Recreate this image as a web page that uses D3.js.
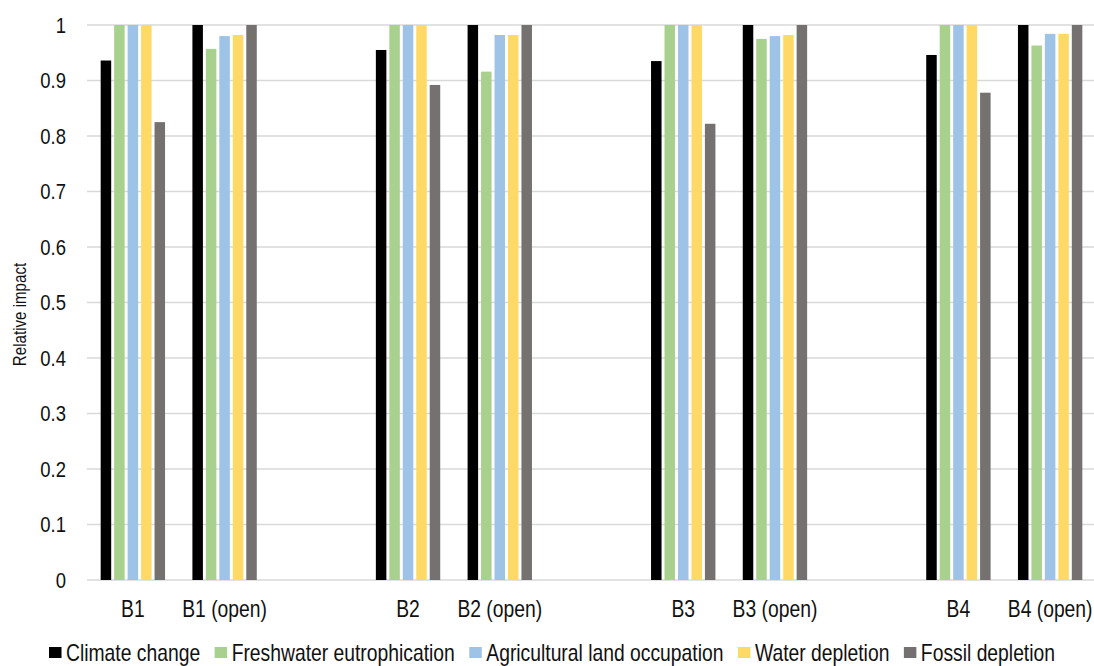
<!DOCTYPE html>
<html>
<head>
<meta charset="utf-8">
<script src="https://cdn.jsdelivr.net/npm/d3@7"></script>
<style>
  html, body { margin: 0; padding: 0; background: #ffffff; }
  svg { display: block; }
  text { font-family: "Liberation Sans", Arial, sans-serif; fill: #111111; }
</style>
</head>
<body>
<svg id="chart" width="1094" height="666"></svg>
<script>
// Category slots (empty strings are spacer slots between building pairs)
const categories = ["B1", "B1 (open)", "", "B2", "B2 (open)", "", "B3", "B3 (open)", "", "B4", "B4 (open)"];

const seriesNames = ["Climate change", "Freshwater eutrophication", "Agricultural land occupation", "Water depletion", "Fossil depletion"];
const seriesColors = ["#000000", "#a9d18e", "#9dc3e6", "#ffd966", "#767171"];

const climateChange            = [0.936, 1.000, null, 0.955, 1.000, null, 0.935, 1.000, null, 0.946, 1.000];
const freshwaterEutrophication = [1.000, 0.957, null, 1.000, 0.916, null, 1.000, 0.975, null, 1.000, 0.963];
const agriculturalLand         = [1.000, 0.980, null, 1.000, 0.982, null, 1.000, 0.980, null, 1.000, 0.984];
const waterDepletion           = [1.000, 0.982, null, 1.000, 0.982, null, 1.000, 0.982, null, 1.000, 0.984];
const fossilDepletion          = [0.825, 1.000, null, 0.892, 1.000, null, 0.822, 1.000, null, 0.878, 1.000];

const yTickValues = [0, 0.1, 0.2, 0.3, 0.4, 0.5, 0.6, 0.7, 0.8, 0.9, 1];
const yTickLabels = ["0", "0.1", "0.2", "0.3", "0.4", "0.5", "0.6", "0.7", "0.8", "0.9", "1"];
const yTitle = "Relative impact";

const seriesValues = [climateChange, freshwaterEutrophication, agriculturalLand, waterDepletion, fossilDepletion];

// Layout
const svg = d3.select("#chart");
const plotLeft = 87, plotRight = 1096, plotTop = 25, plotBottom = 580;
const squeeze = 0.84; // horizontal condensing of all text

const x0 = d3.scaleBand()
  .domain(d3.range(categories.length))
  .range([plotLeft, plotRight])
  .padding(0);

const groupPad = 12.2;
const x1 = d3.scaleBand()
  .domain(d3.range(seriesNames.length))
  .range([groupPad, x0.bandwidth() - groupPad])
  .paddingInner(0.22)
  .paddingOuter(0.11);

const y = d3.scaleLinear().domain([0, 1]).range([plotBottom, plotTop]);

// Gridlines
svg.append("g")
  .selectAll("line")
  .data(yTickValues)
  .join("line")
  .attr("x1", plotLeft)
  .attr("x2", 1094)
  .attr("y1", d => y(d))
  .attr("y2", d => y(d))
  .attr("stroke", "#d9d9d9")
  .attr("stroke-width", 1.3);

// Y tick labels
svg.append("g")
  .selectAll("text")
  .data(yTickValues)
  .join("text")
  .attr("transform", d => `translate(66,${y(d)}) scale(${squeeze},1)`)
  .attr("text-anchor", "end")
  .attr("dominant-baseline", "central")
  .attr("font-size", 22)
  .text((d, i) => yTickLabels[i]);

// Y axis title
svg.append("text")
  .attr("transform", `translate(25.5,${(plotTop + plotBottom) / 2 + 12}) rotate(-90) scale(${squeeze},1)`)
  .attr("text-anchor", "middle")
  .attr("font-size", 18)
  .text(yTitle);

// Bars
const groups = svg.append("g")
  .selectAll("g")
  .data(categories.map((c, i) => i))
  .join("g")
  .attr("transform", i => `translate(${x0(i)},0)`);

groups.selectAll("rect")
  .data(i => seriesValues.map((vals, s) => ({ s, v: vals[i] })).filter(d => d.v != null))
  .join("rect")
  .attr("x", d => x1(d.s))
  .attr("width", x1.bandwidth())
  .attr("y", d => y(d.v))
  .attr("height", d => y(0) - y(d.v))
  .attr("fill", d => seriesColors[d.s]);

// Category labels
svg.append("g")
  .selectAll("text")
  .data(categories.map((c, i) => ({ c, i })).filter(d => d.c !== ""))
  .join("text")
  .attr("transform", d => `translate(${x0(d.i) + x0.bandwidth() / 2},617) scale(${squeeze},1)`)
  .attr("text-anchor", "middle")
  .attr("font-size", 23)
  .text(d => d.c);

// Legend
const legend = svg.append("g");
const sw = 12.5, sh = 11, textGap = 4.5, itemGap = 14.5, legendFont = 23;
let cursor = 0;
seriesNames.forEach((name, s) => {
  const g = legend.append("g");
  g.append("rect")
    .attr("x", 0).attr("y", -sh / 2 - 0.5)
    .attr("width", sw).attr("height", sh)
    .attr("fill", seriesColors[s]);
  const t = g.append("text")
    .attr("transform", `translate(${sw + textGap},7.5) scale(${squeeze},1)`)
    .attr("font-size", legendFont)
    .text(name);
  const w = sw + textGap + t.node().getComputedTextLength() * squeeze;
  g.attr("transform", `translate(${cursor},0)`);
  cursor += w + itemGap;
});
const legendWidth = cursor - itemGap;
legend.attr("transform", `translate(${552 - legendWidth / 2},653)`);
</script>
</body>
</html>
